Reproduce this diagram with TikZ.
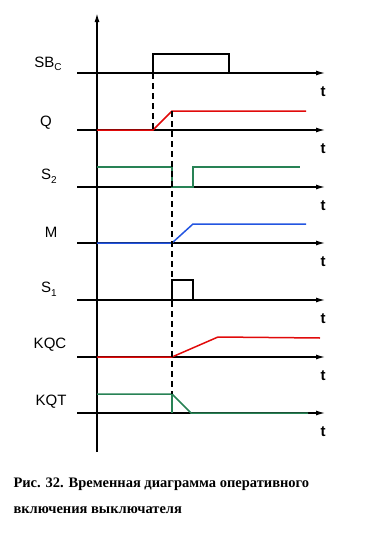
\documentclass[tikz,border=0pt]{standalone}
\usepackage{fontspec}
\setmainfont{Liberation Sans}
\newfontfamily\capfont{Liberation Serif}
\usepackage{tikz}
\usetikzlibrary{arrows.meta}
\definecolor{sigred}{RGB}{225,10,10}
\definecolor{siggreen}{RGB}{40,130,85}
\definecolor{sigblue}{RGB}{35,85,225}
\newcommand{\lowsub}[1]{\raisebox{-0.45ex}{\fontsize{10}{10}\selectfont #1}}

\begin{document}
\begin{tikzpicture}[x=1pt,y=-1pt,>={Latex[length=9pt,width=5pt]},
    base/.style={line width=1.2pt},
    sig/.style={line width=1.5pt},
    lab/.style={font=\fontsize{15}{15}\selectfont},
    tlab/.style={font=\fontsize{15}{15}\selectfont\bfseries},
    capt/.style={anchor=base west,font=\capfont\bfseries\fontsize{14.5}{14.5}\selectfont}]
  \useasboundingbox (0,0) rectangle (371,536);
  % axes
  \draw[line width=1.5pt,->] (97,452) -- (97,13);
  \foreach \y [count=\i] in {73,130,187,243,300,357,413} {
    \draw[base,->] (77,\y) -- (325,\y);
    \node[tlab] (t\i) at (323,\y+19) {t};
  }
  % signal names
  \node[lab] (sbc) at (48,64) {SB\lowsub{C}};
  \node[lab] (q) at (46,123) {Q};
  \node[lab] (s2) at (49,176) {S\lowsub{2}};
  \node[lab] (m) at (51,232) {M};
  \node[lab] (s1) at (49,289) {S\lowsub{1}};
  \node[lab] (kqc) at (50,345) {KQC};
  \node[lab] (kqt) at (51,402) {KQT};
  % signals
  \draw[sig] (153,73) -- (153,54) -- (229,54) -- (229,73);
  \draw[sig,sigred] (97,130) -- (153,130) -- (172,111) -- (306,111);
  \draw[sig,siggreen] (97,167) -- (172,167) -- (172,187) -- (193,187) -- (193,167) -- (300,167);
  \draw[sig,sigblue] (97,243) -- (172,243) -- (193,224) -- (306,224);
  \draw[sig] (172,300) -- (172,280) -- (193,280) -- (193,300);
  \draw[sig,sigred] (97,357) -- (172,357) -- (218,337) -- (320,338);
  \draw[sig,siggreen] (97,394) -- (172,394) -- (191,413) -- (308,413);
  \draw[sig,siggreen] (172,394) -- (172,413);
  % time marks
  \draw[line width=1.3pt,dash pattern=on 6pt off 4pt] (153,73) -- (153,130);
  \draw[line width=1.3pt,dash pattern=on 6pt off 4pt] (172,111) -- (172,394);
  % caption
  \node[capt] (cap1) at (10,487) {Рис. 32. Временная диаграмма оперативного};
  \node[capt] (cap2) at (10,513) {включения выключателя};
\end{tikzpicture}
\end{document}
